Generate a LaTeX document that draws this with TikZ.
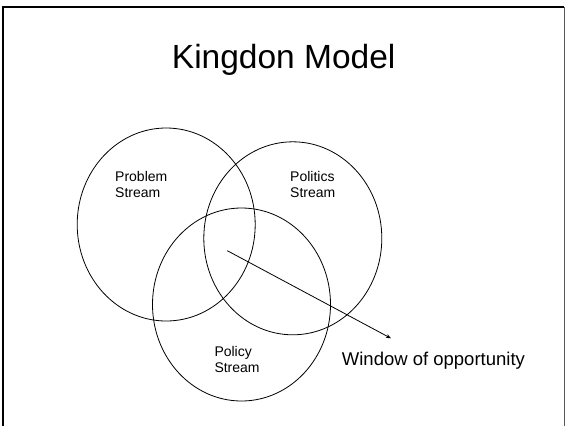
\documentclass[tikz,border=0pt]{standalone}
\usepackage{fontspec}
\setmainfont{Liberation Sans}
\usetikzlibrary{shapes.geometric,arrows.meta}

\begin{document}
\begin{tikzpicture}[x=1pt, y=-1pt,
	stream/.style={draw, ellipse, line width=0.8pt, inner sep=0pt, minimum width=178pt, minimum height=193pt},
	streamlabel/.style={anchor=north west, inner sep=0pt, align=left, font=\fontsize{14}{16.2}\selectfont}]

	\useasboundingbox (0,0) rectangle (565,426);

	% slide frame
	\draw[line width=2pt]            (3,426) -- (3,7) -- (564,7);
	\draw[line width=1pt, gray!70!black] (564,7) -- (564,426);

	\node[anchor=base, inner sep=0pt, font=\fontsize{33.5}{40}\selectfont] (title) at (283.7,68.3) {Kingdon Model};

	\node[stream] (problem)  at (166.2,224.5) {};
	\node[stream] (politics) at (292.8,238.3) {};
	\node[stream] (policy)   at (241.5,304.5) {};

	\node[streamlabel] (problemtext)  at (115,171)   {Problem\\Stream};
	\node[streamlabel] (politicstext) at (290,171)   {Politics\\Stream};
	\node[streamlabel] (policytext)   at (214.3,346) {Policy\\Stream};

	\node[anchor=base west, inner sep=0pt, font=\fontsize{18.5}{22}\selectfont] (window) at (341.7,365.7) {Window of opportunity};

	\coordinate (core) at (227.3,250.7);
	\coordinate (tip)  at (391,338.3);
	\draw[line width=0.8pt, -{Stealth[length=5pt, width=4pt]}] (core) -- (tip);
\end{tikzpicture}
\end{document}
